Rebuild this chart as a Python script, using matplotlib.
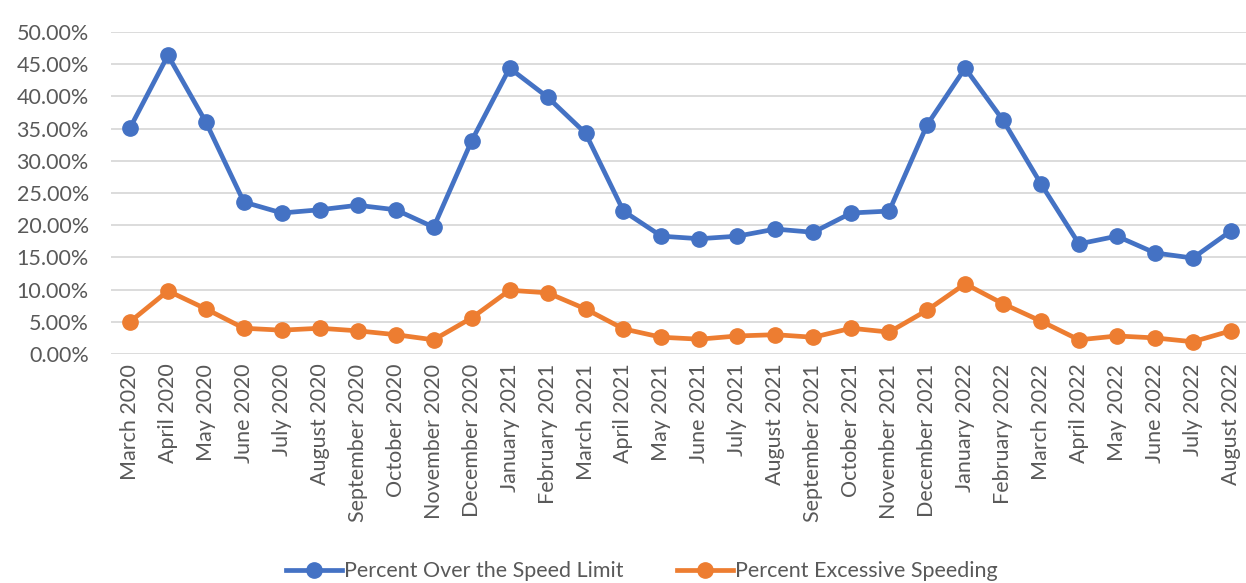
import matplotlib
matplotlib.use('Agg')
import matplotlib.pyplot as plt
from matplotlib.ticker import PercentFormatter

months = ['March 2020', 'April 2020', 'May 2020', 'June 2020', 'July 2020',
          'August 2020', 'September 2020', 'October 2020', 'November 2020',
          'December 2020', 'January 2021', 'February 2021', 'March 2021',
          'April 2021', 'May 2021', 'June 2021', 'July 2021', 'August 2021',
          'September 2021', 'October 2021', 'November 2021', 'December 2021',
          'January 2022', 'February 2022', 'March 2022', 'April 2022',
          'May 2022', 'June 2022', 'July 2022', 'August 2022']

over_limit = [35.1, 46.4, 36.0, 23.6, 21.9, 22.4, 23.1, 22.4, 19.7, 33.1,
              44.4, 39.9, 34.3, 22.2, 18.3, 17.9, 18.3, 19.4, 18.9, 21.9,
              22.2, 35.6, 44.4, 36.3, 26.4, 17.1, 18.3, 15.7, 14.9, 19.1]

excessive = [5.0, 9.8, 7.0, 4.0, 3.7, 4.0, 3.6, 3.0, 2.2, 5.6,
             9.9, 9.5, 7.0, 3.9, 2.6, 2.3, 2.8, 3.0, 2.6, 4.0,
             3.4, 6.8, 10.9, 7.8, 5.1, 2.2, 2.8, 2.5, 1.9, 3.6]

plt.rcParams['font.family'] = ['Lato', 'DejaVu Sans']
text_color = '#595959'

fig = plt.figure(figsize=(12.46, 5.83), dpi=100)
ax = fig.add_axes([0.0891, 0.3928, 0.9109, 0.5522])

x = range(len(months))
ax.plot(x, over_limit, color='#4472C4', lw=3.4, marker='o', ms=11,
        label='Percent Over the Speed Limit')
ax.plot(x, excessive, color='#ED7D31', lw=3.4, marker='o', ms=11,
        label='Percent Excessive Speeding')

ax.set_ylim(0, 50)
ax.set_yticks(range(0, 51, 5))
ax.yaxis.set_major_formatter(PercentFormatter(decimals=2))
ax.set_xlim(-0.5, 29.4)
ax.set_xticks(list(x))
ax.set_xticklabels(months, rotation=90)
ax.tick_params(axis='both', length=0, labelsize=15.5, colors=text_color)
ax.tick_params(axis='x', pad=7)
ax.tick_params(axis='y', pad=16)

ax.grid(axis='y', color='#D9D9D9', lw=1.3)
ax.set_axisbelow(True)
for s in ax.spines.values():
    s.set_visible(False)

leg = fig.legend(loc='center', bbox_to_anchor=(0.515, 0.02), ncol=2,
                 frameon=False, fontsize=15.5, handlelength=2.6,
                 columnspacing=2.5, handletextpad=0.1)
for t in leg.get_texts():
    t.set_color(text_color)

fig.savefig('out.png', dpi=100)
